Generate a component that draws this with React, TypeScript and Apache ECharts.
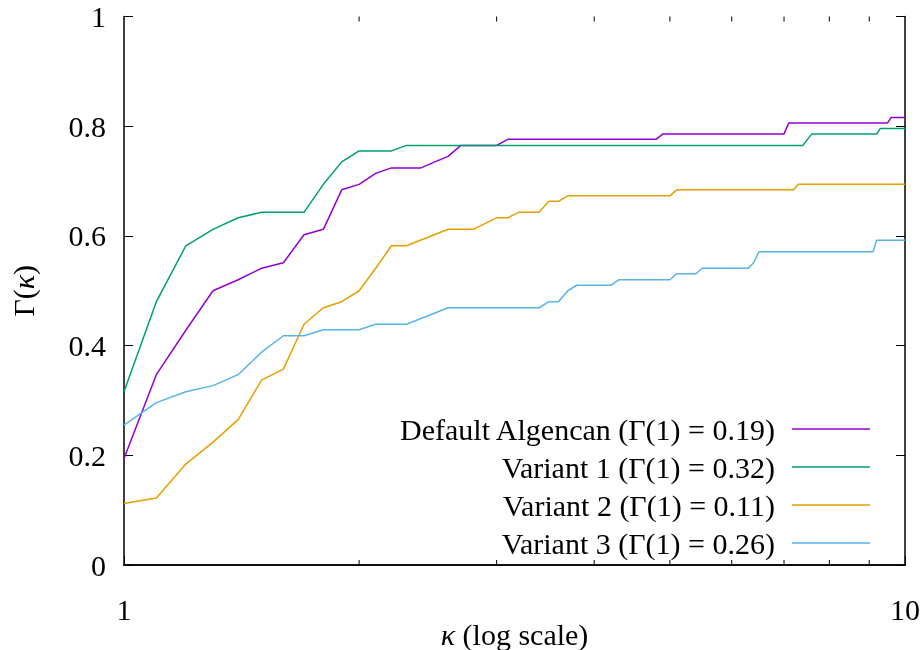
import React, { useEffect, useRef } from 'react';
import * as echarts from 'echarts';

const seriesNames = [
  'Default Algencan (Γ(1) = 0.19)',
  'Variant 1 (Γ(1) = 0.32)',
  'Variant 2 (Γ(1) = 0.11)',
  'Variant 3 (Γ(1) = 0.26)',
];
const seriesColors = ['#9400d3', '#009e73', '#e69f00', '#56b4e9'];

const kappaDefault = [1, 1.1, 1.2, 1.3, 1.4, 1.5, 1.6, 1.7, 1.8, 1.9, 2.0, 2.1, 2.2, 2.4, 2.5, 2.6, 2.7, 3.0, 3.1, 4.8, 4.9, 7.0, 7.1, 9.5, 9.6, 10];
const gammaDefault = [0.194, 0.347, 0.428, 0.5, 0.52, 0.541, 0.551, 0.602, 0.612, 0.684, 0.694, 0.714, 0.724, 0.724, 0.735, 0.745, 0.765, 0.765, 0.776, 0.776, 0.786, 0.786, 0.806, 0.806, 0.816, 0.816];

const kappaVariant1 = [1, 1.1, 1.2, 1.3, 1.4, 1.5, 1.7, 1.8, 1.9, 2.0, 2.2, 2.3, 7.4, 7.5, 7.6, 9.2, 9.3, 10];
const gammaVariant1 = [0.316, 0.48, 0.582, 0.612, 0.633, 0.643, 0.643, 0.694, 0.735, 0.755, 0.755, 0.765, 0.765, 0.776, 0.786, 0.786, 0.796, 0.796];

const kappaVariant2 = [1, 1.1, 1.2, 1.3, 1.4, 1.5, 1.6, 1.7, 1.8, 1.9, 2.0, 2.1, 2.2, 2.3, 2.6, 2.8, 3.0, 3.1, 3.2, 3.4, 3.5, 3.6, 3.7, 5.0, 5.1, 7.2, 7.3, 10];
const gammaVariant2 = [0.112, 0.122, 0.184, 0.224, 0.265, 0.337, 0.357, 0.439, 0.469, 0.48, 0.5, 0.541, 0.582, 0.582, 0.612, 0.612, 0.633, 0.633, 0.643, 0.643, 0.663, 0.663, 0.673, 0.673, 0.684, 0.684, 0.694, 0.694];

const kappaVariant3 = [1, 1.1, 1.2, 1.3, 1.4, 1.5, 1.6, 1.7, 1.8, 2.0, 2.1, 2.3, 2.6, 3.4, 3.5, 3.6, 3.7, 3.8, 4.2, 4.3, 5.0, 5.1, 5.4, 5.5, 6.3, 6.4, 6.5, 9.1, 9.2, 10];
const gammaVariant3 = [0.255, 0.296, 0.316, 0.327, 0.347, 0.388, 0.418, 0.418, 0.429, 0.429, 0.439, 0.439, 0.469, 0.469, 0.48, 0.48, 0.5, 0.51, 0.51, 0.52, 0.52, 0.531, 0.531, 0.541, 0.541, 0.551, 0.571, 0.571, 0.592, 0.592];

const minorTicks = [2, 3, 4, 5, 6, 7, 8, 9];

const FONT = '"Liberation Serif", "DejaVu Serif", serif';

export default function App() {
  const ref = useRef<HTMLDivElement>(null);
  useEffect(() => {
    const chart = echarts.init(ref.current!, null, { renderer: 'svg' });
    const kappas = [kappaDefault, kappaVariant1, kappaVariant2, kappaVariant3];
    const gammas = [gammaDefault, gammaVariant1, gammaVariant2, gammaVariant3];
    const lineSeries = seriesNames.map((name, i) => ({
      name,
      type: 'line',
      data: kappas[i].map((k, j) => [k, gammas[i][j]]),
      symbol: 'none',
      showSymbol: false,
      lineStyle: { color: seriesColors[i], width: 1.5 },
      itemStyle: { color: seriesColors[i] },
      z: 3,
    }));
    const axisLine = { show: true, lineStyle: { color: '#000', width: 1.5 } };
    const option: any = {
      animation: false,
      textStyle: { fontFamily: FONT },
      grid: { left: 124, right: 17, top: 16.5, bottom: 85, containLabel: false, outerBoundsMode: 'none' },
      legend: {
        data: seriesNames,
        orient: 'vertical',
        align: 'right',
        right: 52,
        top: 414,
        padding: 0,
        icon: 'rect',
        itemWidth: 78,
        itemHeight: 1.5,
        itemGap: 8,
        formatter: (n: string) => `{t|${n}}`,
        textStyle: {
          fontSize: 30,
          lineHeight: 30,
          rich: {
            t: { fontFamily: FONT, fontSize: 30, color: '#000', padding: [0, 12, 0, 0], lineHeight: 30, height: 30 },
          },
        },
      },
      xAxis: [
        {
          type: 'log',
          logBase: 10,
          min: 1,
          max: 10,
          position: 'bottom',
          axisLine,
          axisTick: { show: true, inside: true, length: 9, lineStyle: { color: '#000', width: 1 } },
          axisLabel: { fontSize: 30, color: '#000', fontFamily: FONT, margin: 29 },
          splitLine: { show: false },
          name: '{i|κ}{n| (log scale)}',
          nameLocation: 'middle',
          nameGap: 54,
          nameMoveOverlap: false,
          nameTextStyle: {
            rich: {
              i: { fontFamily: FONT, fontSize: 30, fontStyle: 'italic', color: '#000' },
              n: { fontFamily: FONT, fontSize: 30, color: '#000' },
            },
          },
        },
        {
          type: 'log',
          logBase: 10,
          min: 1,
          max: 10,
          position: 'top',
          axisLine,
          axisTick: { show: false },
          axisLabel: { show: false },
          splitLine: { show: false },
        },
      ],
      yAxis: [
        {
          type: 'value',
          min: 0,
          max: 1,
          interval: 0.2,
          position: 'left',
          axisLine,
          axisTick: { show: true, inside: true, length: 9, lineStyle: { color: '#000', width: 1 } },
          axisLabel: { fontSize: 30, color: '#000', fontFamily: FONT, margin: 18 },
          splitLine: { show: false },
          name: '{n|Γ(}{i|κ}{n|)}',
          nameLocation: 'middle',
          nameRotate: 90,
          nameGap: 86,
          nameMoveOverlap: false,
          nameTextStyle: {
            rich: {
              i: { fontFamily: FONT, fontSize: 30, fontStyle: 'italic', color: '#000' },
              n: { fontFamily: FONT, fontSize: 30, color: '#000' },
            },
          },
        },
        {
          type: 'value',
          min: 0,
          max: 1,
          interval: 0.2,
          position: 'right',
          axisLine,
          axisTick: { show: true, inside: true, length: 9, lineStyle: { color: '#000', width: 1 } },
          axisLabel: { show: false },
          splitLine: { show: false },
        },
      ],
      series: [
        ...lineSeries,
        {
          name: 'minor-ticks',
          type: 'custom',
          coordinateSystem: 'cartesian2d',
          xAxisIndex: 0,
          yAxisIndex: 0,
          silent: true,
          data: minorTicks.map((v) => [v, 0]),
          renderItem: (_params: any, api: any) => {
            const v = api.value(0);
            const b = api.coord([v, 0]);
            const t = api.coord([v, 1]);
            const st = { stroke: '#000', lineWidth: 1 };
            return {
              type: 'group',
              children: [
                { type: 'line', shape: { x1: b[0], y1: b[1], x2: b[0], y2: b[1] - 5 }, style: st },
                { type: 'line', shape: { x1: t[0], y1: t[1], x2: t[0], y2: t[1] + 5 }, style: st },
              ],
            };
          },
          z: 5,
        },
      ],
    };
    chart.setOption(option);
    return () => chart.dispose();
  }, []);
  return <div ref={ref} style={{ position: 'fixed', left: 0, top: 0, width: 922, height: 650 }} />;
}
